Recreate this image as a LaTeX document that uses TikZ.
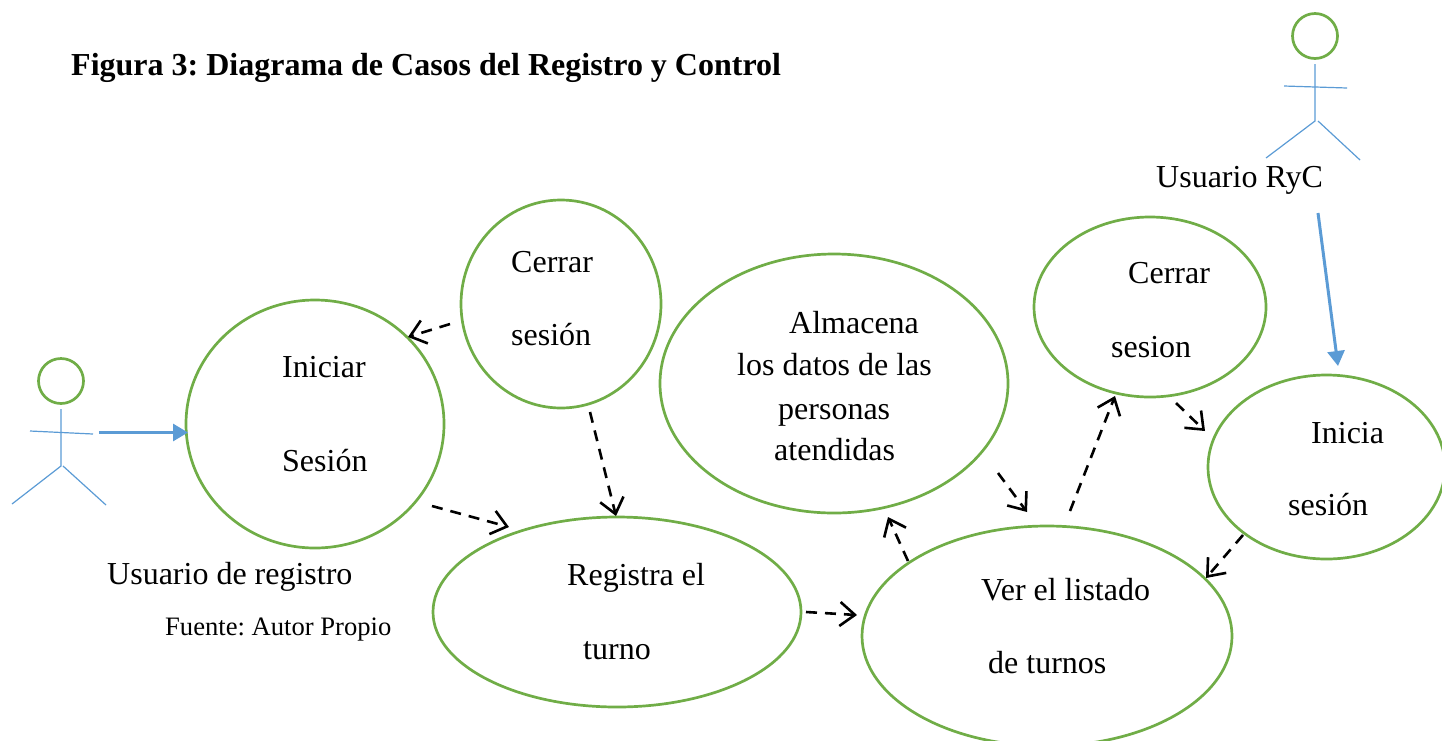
\documentclass[tikz,border=0pt]{standalone}
\usepackage{fontspec}
\setmainfont{Liberation Serif}
\usetikzlibrary{shapes.geometric,arrows.meta}
\definecolor{ucgreen}{HTML}{70AD47}
\definecolor{ucblue}{HTML}{5B9BD5}
\tikzset{
  usecase/.style={ellipse,draw=ucgreen,line width=2.7pt,inner sep=0pt,fill=none},
  head/.style={circle,draw=ucgreen,line width=2.7pt,inner sep=0pt,minimum size=45pt},
  limb/.style={draw=ucblue,line width=1.2pt},
  assoc/.style={draw=ucblue,line width=3pt,-{Triangle[length=15pt,width=17pt]}},
  dep/.style={draw=black,line width=2.6pt,dash pattern=on 11pt off 8pt,-{Straight Barb[length=15pt,width=24pt,line width=2.6pt]}},
  txt/.style={anchor=base west,inner sep=0pt,yshift=-0.8pt,font=\fontsize{32}{38}\selectfont},
  title/.style={anchor=base west,inner sep=0pt,font=\fontsize{32}{38}\selectfont\bfseries},
  src/.style={anchor=base west,inner sep=0pt,yshift=-0.5pt,font=\fontsize{26.6}{32}\selectfont}
}
\frenchspacing
\begin{document}
\begin{tikzpicture}[x=1pt,y=-1pt]
\useasboundingbox (0,0) rectangle (1442,740);
% use cases
\node[usecase,minimum width=258pt,minimum height=248pt] (ini) at (315,424) {};
\node[usecase,minimum width=200pt,minimum height=208pt] (cer) at (561,304) {};
\node[usecase,minimum width=348pt,minimum height=259pt] (alm) at (834,383.5) {};
\node[usecase,minimum width=232pt,minimum height=180pt] (cer2) at (1150,307) {};
\node[usecase,minimum width=237pt,minimum height=184pt] (inc) at (1326.5,467) {};
\node[usecase,minimum width=368pt,minimum height=190pt] (reg) at (617,612) {};
\node[usecase,minimum width=370pt,minimum height=220pt] (ver) at (1047,636) {};
% left actor
\node[head] (h1) at (61,381) {};
\coordinate (b1a) at (61,409); \coordinate (b1b) at (61,466);
\coordinate (a1a) at (30,431); \coordinate (a1b) at (93,434);
\coordinate (l1a) at (12,504); \coordinate (l1b) at (106,505); \coordinate (l1c) at (63,466);
\draw[limb] (b1a) -- (b1b) -- (l1a);
\draw[limb] (l1c) -- (l1b);
\draw[limb] (a1a) -- (a1b);
% right actor
\node[head] (h2) at (1315,36) {};
\coordinate (b2a) at (1315,64); \coordinate (b2b) at (1315,121);
\coordinate (a2a) at (1284,86); \coordinate (a2b) at (1347,88);
\coordinate (l2a) at (1266,158); \coordinate (l2b) at (1360,160); \coordinate (l2c) at (1318,121);
\draw[limb] (b2a) -- (b2b) -- (l2a);
\draw[limb] (l2c) -- (l2b);
\draw[limb] (a2a) -- (a2b);
% associations
\coordinate (s1) at (99,432.5); \coordinate (e1) at (188,432.5);
\coordinate (s2) at (1318,213); \coordinate (e2) at (1338,366);
\draw[assoc] (s1) -- (e1);
\draw[assoc] (s2) -- (e2);
% dependencies
\coordinate (d1s) at (450,324); \coordinate (d1e) at (408,337);
\coordinate (d2s) at (590,412); \coordinate (d2e) at (616,516);
\coordinate (d3s) at (432,506); \coordinate (d3e) at (509,527);
\coordinate (d4s) at (806,612); \coordinate (d4e) at (857,615);
\coordinate (d5s) at (908,561); \coordinate (d5e) at (888,517);
\coordinate (d6s) at (998,473); \coordinate (d6e) at (1027,512);
\coordinate (d7s) at (1070,511); \coordinate (d7e) at (1115,396);
\coordinate (d8s) at (1176,403); \coordinate (d8e) at (1205,431);
\coordinate (d9s) at (1243,535); \coordinate (d9e) at (1206,578);
\foreach \d in {1,...,9}{\draw[dep] (d\d s) -- (d\d e);}
% texts
\node[title] (t0) at (71,75) {Figura 3: Diagrama de Casos del Registro y Control};
\node[txt] (t1) at (282,377) {Iniciar};
\node[txt] (t2) at (282,471) {Sesión};
\node[txt] (t3) at (511,272) {Cerrar};
\node[txt] (t4) at (511,345) {sesión};
\node[txt] (t5) at (789,333) {Almacena};
\node[txt] (t6) at (737,375) {los datos de las};
\node[txt] (t7) at (778,419) {personas};
\node[txt] (t8) at (774,460) {atendidas};
\node[txt] (t9) at (1128,283) {Cerrar};
\node[txt] (t10) at (1111,357) {sesion};
\node[txt] (t11) at (1311,443) {Inicia};
\node[txt] (t12) at (1288,515) {sesión};
\node[txt] (t13) at (567,585) {Registra el};
\node[txt] (t14) at (583,659) {turno};
\node[txt] (t15) at (981,600) {Ver el listado};
\node[txt] (t16) at (988,673) {de turnos};
\node[txt] (t17) at (107,584) {Usuario de registro};
\node[src] (t18) at (165,635) {Fuente: Autor Propio};
\node[txt] (t19) at (1156,187) {Usuario RyC};
\end{tikzpicture}
\end{document}
